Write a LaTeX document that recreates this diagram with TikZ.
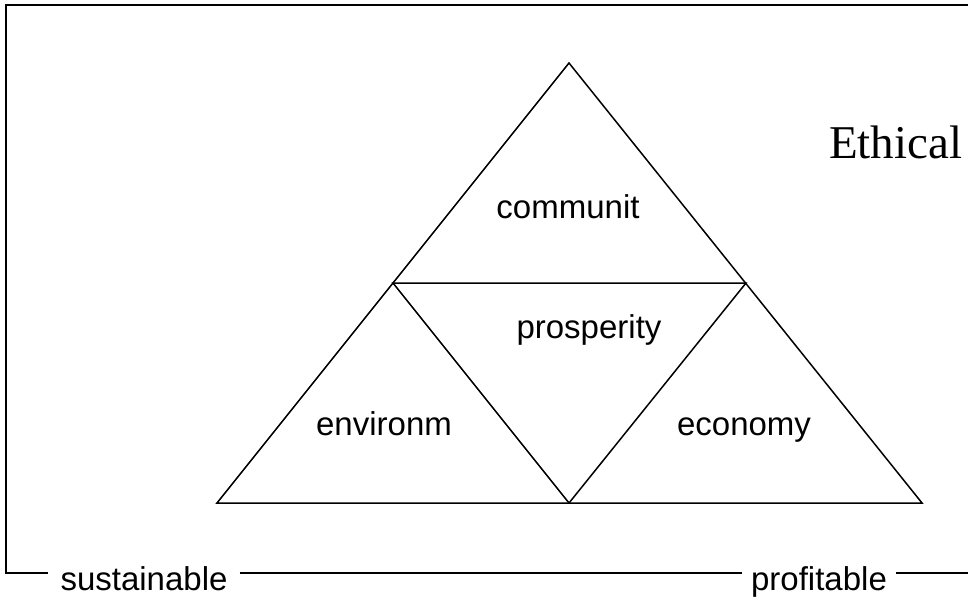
\documentclass[tikz,border=0pt]{standalone}
\usepackage{fontspec}
\setmainfont{Liberation Sans}
\newfontfamily\ethicalfont{Liberation Serif}
\begin{document}
\begin{tikzpicture}[x=1pt,y=-1pt,line join=miter]
    \tikzset{lbl/.style={font=\fontsize{33}{40}\selectfont, anchor=base, inner sep=0pt},
        frame/.style={line width=2pt},
        tri/.style={line width=1.5pt}}
    \useasboundingbox (0,0) rectangle (968,599);

    % the frame, broken by the two bottom labels
    \coordinate (tl) at (6,5);
    \coordinate (tr) at (968,5);
    \coordinate (bl) at (6,573);
    \coordinate (br) at (968,573);
    \node[lbl, inner xsep=12pt] (sus) at (144,590) {sustainable};
    \node[lbl, inner xsep=9pt] (pro) at (819,590) {profitable};
    \draw[frame] (tr) -- (tl) -- (bl) -- (bl -| sus.west);
    \draw[frame] (bl -| sus.east) -- (bl -| pro.west);
    \draw[frame] (bl -| pro.east) -- (br);

    % the triangle and its four parts
    \coordinate (apex) at (569,63);
    \coordinate (ml) at (393,283);
    \coordinate (mr) at (746,283);
    \coordinate (lft) at (217,503);
    \coordinate (bm) at (569,503);
    \coordinate (rgt) at (922,503);
    \draw[tri] (apex) -- (lft) -- (rgt) -- cycle;
    \draw[tri] (ml) -- (mr) -- (bm) -- cycle;

    \node[lbl] (comm) at (568,218) {communit};
    \node[lbl] (pros) at (589,338) {prosperity};
    \node[lbl] (env) at (384,435) {environm};
    \node[lbl] (eco) at (744,435) {economy};

    \node[lbl, anchor=base west, font=\ethicalfont\fontsize{47}{56}\selectfont] (eth) at (829,158) {Ethical};
\end{tikzpicture}
\end{document}
